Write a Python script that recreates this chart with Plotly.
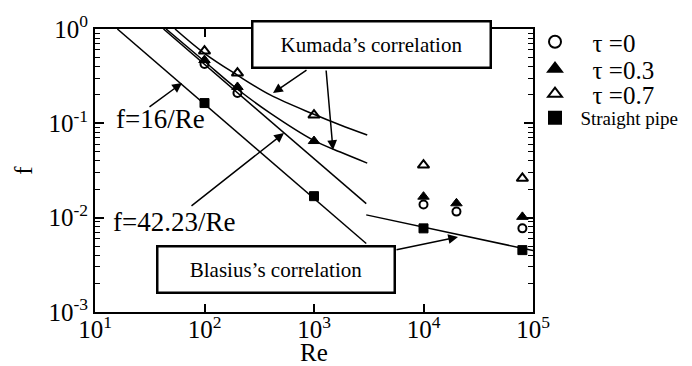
import plotly.graph_objects as go

# ---------------- data ----------------
# experimental points
tau0_re = [100, 200, 10000, 20000, 80000]
tau0_f = [0.425, 0.21, 0.0138, 0.0116, 0.0077]

tau03_re = [100, 200, 1000, 10000, 20000, 80000]
tau03_f = [0.469, 0.243, 0.0649, 0.0167, 0.0142, 0.0102]

tau07_re = [100, 200, 1000, 10000, 80000]
tau07_f = [0.584, 0.341, 0.1225, 0.0361, 0.0261]

straight_re = [100, 1000, 10000, 80000]
straight_f = [0.164, 0.0169, 0.0077, 0.00453]

# correlation curves
lam16_re = [16, 3000]
lam16_f = [1.0, 0.00533]

lam42_re = [42.23, 3000]
lam42_f = [1.0, 0.01408]

blasius_re = [3000, 100000]
blasius_f = [0.0107, 0.00448]

kumada03_re = [44.6, 99, 199, 398, 984, 1738, 3063]
kumada03_f = [1.0, 0.458, 0.231, 0.1285, 0.0665, 0.0496, 0.0379]

kumada07_re = [53.8, 99, 199, 398, 984, 1738, 3063]
kumada07_f = [1.0, 0.556, 0.325, 0.200, 0.1255, 0.096, 0.0751]

# axis ticks
x_tickvals = [10, 100, 1000, 10000, 100000]
x_ticktext = ["10<sup>1</sup>", "10<sup>2</sup>", "10<sup>3</sup>", "10<sup>4</sup>", "10<sup>5</sup>"]
y_tickvals = [0.001, 0.01, 0.1, 1]
y_ticktext = ["10<sup>-3</sup>", "10<sup>-2</sup>", "10<sup>-1</sup>", "10<sup>0</sup>"]
y_minor = [m * 10.0 ** e for e in (-3, -2, -1) for m in range(2, 10)]

FONT = "Liberation Serif"
OFF = 8  # default page body margin
W, H = 692 - OFF, 366 - OFF
ML, MT = 95 - OFF, 29 - OFF
MR, MB = W - (533 - OFF), H - (312 - OFF)
PW, PH = W - ML - MR, H - MT - MB


def px(x):
    """page pixel x -> paper fraction"""
    return (x - OFF - ML) / PW


def py(y):
    """page pixel y -> paper fraction"""
    return (H - MB - (y - OFF)) / PH


fig = go.Figure()

line_style = dict(color="black", width=1.5)
for xs, ys, shape in [
    (lam16_re, lam16_f, "linear"),
    (lam42_re, lam42_f, "linear"),
    (blasius_re, blasius_f, "linear"),
    (kumada03_re, kumada03_f, "spline"),
    (kumada07_re, kumada07_f, "spline"),
]:
    fig.add_trace(go.Scatter(x=xs, y=ys, mode="lines", line=dict(shape=shape, **line_style),
                             showlegend=False, hoverinfo="skip"))

nb = "\u00a0"
tau_pre = nb * 2 + "\u2009"
series = [
    (tau0_re, tau0_f, tau_pre + "τ" + nb + "=0", dict(symbol="circle-open", size=8, color="black",
                                                   line=dict(width=2, color="black")), "legend", 42, 25),
    (tau03_re, tau03_f, tau_pre + "τ" + nb + "=0.3", dict(symbol="triangle-up", size=10, color="black",
                                                       line=dict(width=1, color="black")), "legend2", 69, 25),
    (tau07_re, tau07_f, tau_pre + "τ" + nb + "=0.7", dict(symbol="triangle-up-open", size=10, color="black",
                                                       line=dict(width=2, color="black")), "legend3", 94, 25),
    (straight_re, straight_f, "\u2009\u200aStraight pipe", dict(symbol="square", size=9, color="black",
                                                             line=dict(width=1, color="black")), "legend4", 118, 19),
]

legend_layouts = {}
for xs, ys, name, mk, lg, row_y, fsize in series:
    fig.add_trace(go.Scatter(x=xs, y=ys, mode="markers", name=name, marker=mk, legend=lg))
    legend_layouts[lg] = dict(x=px(535), y=py(row_y), xanchor="left", yanchor="middle",
                              font=dict(family=FONT, size=fsize, color="black"),
                              bgcolor="rgba(0,0,0,0)", borderwidth=0, itemsizing="constant")

axis_common = dict(type="log", showline=True, linecolor="black", linewidth=2, mirror="allticks",
                   ticks="inside", tickcolor="black", tickwidth=1.5, showgrid=False, zeroline=False,
                   automargin=False,
                   tickfont=dict(family=FONT, size=25, color="black"))

fig.update_xaxes(range=[1, 5], tickvals=x_tickvals, ticktext=x_ticktext, ticklen=8,
                 ticklabelstandoff=-6,
                 title=dict(text="Re", font=dict(family=FONT, size=25, color="black"), standoff=9),
                 **axis_common)
fig.update_yaxes(range=[-3, 0], tickvals=y_tickvals, ticktext=y_ticktext, ticklen=9,
                 minor=dict(tickvals=y_minor, ticks="inside", ticklen=5, tickcolor="black",
                            tickwidth=1, showgrid=False),
                 title=dict(text="f", font=dict(family=FONT, size=25, color="black"), standoff=9),
                 **axis_common)

annotations = []
# text boxes
annotations.append(dict(xref="paper", yref="paper", x=px(371), y=py(45), text="Kumada’s correlation",
                        showarrow=False, font=dict(family=FONT, size=21, color="black"),
                        bgcolor="white", bordercolor="black", borderwidth=2.5, borderpad=0,
                        width=236, height=44, xanchor="center", yanchor="middle"))
annotations.append(dict(xref="paper", yref="paper", x=px(275.5), y=py(269), text="Blasius’s correlation",
                        showarrow=False, font=dict(family=FONT, size=21, color="black"),
                        bgcolor="white", bordercolor="black", borderwidth=2.5, borderpad=0,
                        width=235, height=44, xanchor="center", yanchor="middle"))
# labels
annotations.append(dict(xref="paper", yref="paper", x=px(160), y=py(119), text="f=16/Re",
                        showarrow=False, xanchor="center", yanchor="middle",
                        font=dict(family=FONT, size=27, color="black")))
annotations.append(dict(xref="paper", yref="paper", x=px(174), y=py(222), text="f=42.23/Re",
                        showarrow=False, xanchor="center", yanchor="middle",
                        font=dict(family=FONT, size=27, color="black")))
# arrows (tip, tail)
for (tx, ty), (sx, sy) in [
    ((182, 83), (148, 108)),
    ((284, 133), (190, 207)),
    ((273, 93), (308, 69)),
    ((333, 150), (326, 69)),
    ((458, 237), (395, 250)),
]:
    annotations.append(dict(xref="paper", yref="paper", x=px(tx), y=py(ty), ax=sx - tx, ay=sy - ty,
                            text="", showarrow=True, arrowhead=2, arrowsize=1.3, arrowwidth=1.5,
                            arrowcolor="black"))

fig.update_layout(
    width=W, height=H, autosize=False,
    margin=dict(l=ML, r=MR, t=MT, b=MB, autoexpand=False),
    paper_bgcolor="white", plot_bgcolor="white",
    font=dict(family=FONT, color="black"),
    showlegend=True,
    annotations=annotations,
    **legend_layouts,
)

fig.write_html("out.html")
